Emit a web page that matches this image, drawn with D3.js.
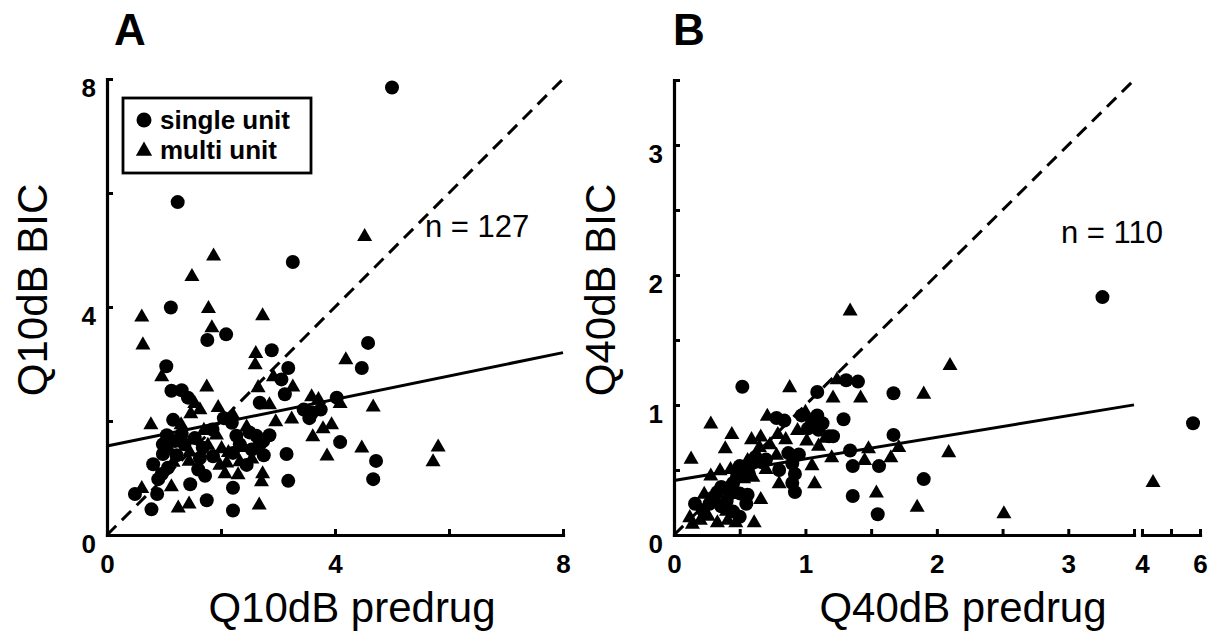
<!DOCTYPE html>
<html>
<head>
<meta charset="utf-8">
<script src="https://cdn.jsdelivr.net/npm/d3@7"></script>
<style>
  body { margin: 0; background: #fff; }
  svg { display: block; }
  text { font-family: "Liberation Sans", Arial, Helvetica, sans-serif; fill: #000; }
</style>
</head>
<body>
<svg id="chart" width="1210" height="633"></svg>
<script>
// ---- data ----
// panel A: Q10dB predrug vs Q10dB BIC
const aSingle = [
  [5.0, 7.85], [1.24, 5.84], [3.26, 4.79], [1.12, 3.99], [1.76, 3.42], [2.09, 3.52], [2.89, 3.24],
  [1.04, 2.96], [3.18, 2.93], [3.06, 2.73], [1.13, 2.53], [1.31, 2.54], [3.12, 2.47], [1.42, 2.41],
  [2.68, 2.32], [1.16, 2.02], [2.19, 1.97], [1.31, 1.77], [1.54, 1.70], [2.27, 1.74], [2.62, 1.74],
  [0.98, 1.59], [1.19, 1.65], [2.68, 1.59], [1.68, 1.53], [0.98, 1.42], [2.21, 1.44], [2.54, 1.50],
  [3.15, 1.42], [1.63, 1.35], [1.86, 1.38], [0.81, 1.24], [1.07, 1.18], [0.96, 1.07], [1.72, 1.04],
  [3.18, 0.95], [0.90, 0.98], [0.49, 0.72], [1.46, 0.89], [0.88, 0.72], [2.21, 0.83], [0.78, 0.45],
  [1.75, 0.61], [2.21, 0.43],
  [4.58, 3.37], [4.47, 2.93], [4.03, 2.41], [3.45, 2.20], [3.60, 2.15], [3.75, 2.20], [3.55, 2.05],
  [4.09, 1.63], [4.72, 1.30], [4.67, 0.98],
  [1.36, 1.59], [2.33, 1.59], [2.45, 1.23], [2.74, 1.65], [1.05, 1.75], [1.22, 1.40], [1.85, 1.85],
  [2.05, 2.05], [2.50, 1.80], [2.75, 1.40], [1.60, 1.15], [2.85, 1.75]
];
const aMulti = [
  [4.52, 5.25], [1.87, 4.91], [1.49, 4.55], [0.61, 3.84], [1.78, 3.99], [2.73, 3.86], [1.84, 3.65],
  [0.63, 3.35], [2.61, 3.20], [2.60, 3.00], [0.96, 2.79], [2.92, 2.79], [3.26, 2.61], [1.75, 2.61],
  [2.65, 2.60], [1.54, 2.32], [1.47, 2.14], [1.63, 2.21], [0.77, 1.95], [2.21, 2.12], [2.96, 2.00],
  [3.24, 2.05], [2.45, 1.91], [1.92, 1.77], [1.77, 1.59], [2.01, 1.53], [1.44, 1.31], [1.98, 1.24],
  [2.33, 1.30], [2.07, 1.09], [2.30, 1.07], [2.73, 1.09], [2.71, 0.95], [0.61, 0.83], [1.13, 0.86],
  [1.25, 0.49], [1.44, 0.56], [2.67, 0.54],
  [4.19, 3.09], [3.59, 2.44], [3.71, 2.39], [4.09, 2.32], [4.67, 2.26], [3.94, 1.95], [3.79, 1.88],
  [3.61, 1.74], [4.47, 1.54], [5.81, 1.56], [5.72, 1.30], [3.86, 1.40],
  [1.45, 1.47], [2.13, 1.46], [2.54, 1.35], [1.16, 1.29], [2.10, 1.28], [1.30, 1.95], [1.95, 2.25],
  [2.40, 1.55], [1.10, 1.50], [2.85, 2.30], [1.70, 1.85]
];
// panel B: Q40dB predrug vs Q40dB BIC
const bSingle = [
  [0.52, 1.14], [1.09, 1.10], [0.78, 0.90], [0.84, 0.88], [0.97, 0.92], [1.09, 0.92], [1.02, 0.82],
  [1.10, 0.81], [1.18, 0.76], [0.67, 0.56], [0.87, 0.63], [0.90, 0.55], [0.92, 0.47], [0.92, 0.33],
  [0.50, 0.53], [0.57, 0.47], [0.36, 0.37], [0.43, 0.32], [0.50, 0.32], [0.30, 0.29], [0.16, 0.24],
  [0.22, 0.19], [0.36, 0.22], [0.45, 0.18], [0.50, 0.14], [0.56, 0.31], [0.45, 0.40], [0.59, 0.55],
  [0.80, 0.50],
  [1.31, 1.19], [1.40, 1.18], [3.26, 1.83], [1.67, 1.09], [1.29, 0.89], [1.21, 0.76], [1.67, 0.77],
  [1.34, 0.65], [1.36, 0.53], [1.56, 0.53], [1.90, 0.43], [1.36, 0.30], [1.55, 0.16],
  [5.76, 0.86],
  [0.33, 0.33], [0.40, 0.26], [0.55, 0.24], [0.27, 0.24], [0.48, 0.45], [0.62, 0.60], [0.90, 0.40],
  [0.95, 0.62], [1.05, 0.88], [1.13, 0.86], [0.70, 0.58]
];
const bMulti = [
  [0.88, 1.14], [1.21, 1.06], [0.28, 0.86], [0.44, 0.78], [0.71, 0.92], [0.59, 0.74], [0.66, 0.76],
  [0.79, 0.78], [0.94, 0.81], [1.01, 0.73], [1.10, 0.69], [0.39, 0.67], [0.13, 0.59], [0.63, 0.62],
  [0.78, 0.62], [1.05, 0.54], [1.07, 0.40], [0.28, 0.46], [0.43, 0.51], [0.70, 0.51], [0.80, 0.40],
  [0.66, 0.28], [0.12, 0.14], [0.26, 0.15], [0.41, 0.12], [0.61, 0.10], [0.14, 0.09], [0.40, 0.19],
  [0.53, 0.44], [0.65, 0.68],
  [1.34, 1.73], [2.10, 1.31], [1.24, 1.20], [1.42, 1.06], [1.90, 1.09], [1.71, 0.68], [1.48, 0.67],
  [1.20, 0.60], [1.45, 0.58], [1.65, 0.60], [2.09, 0.64], [1.54, 0.33], [1.85, 0.22], [2.51, 0.17],
  [4.38, 0.41],
  [0.33, 0.10], [0.20, 0.12], [0.47, 0.10], [0.56, 0.58], [0.73, 0.70], [0.85, 0.74], [1.00, 0.95],
  [1.15, 0.75], [0.35, 0.50], [0.23, 0.32], [0.60, 0.45]
];

// regression lines (intercept, slope)
const aFit = [1.56, 0.205];
const bFit = [0.42, 0.166];

// ticks
const aTicks = [0, 2, 4, 6, 8];
const aLabels = [0, 4, 8];
const bYTicks = [0, 0.5, 1, 1.5, 2, 2.5, 3, 3.5];
const bXTicks = [0, 0.5, 1, 1.5, 2, 2.5, 3, 3.5];
const bLabels = [0, 1, 2, 3];
const bXTicksBreak = [4, 5, 6];
const bXLabelsBreak = [4, 6];

const legendItems = ["single unit", "multi unit"];

// ---- drawing ----
const svg = d3.select("#chart");
const tickFont = 26;

function styleAxis(g) {
  g.select(".domain").attr("stroke", "#000").attr("stroke-width", 3.2).attr("stroke-linecap", "square");
  g.selectAll(".tick line").attr("stroke", "#000").attr("stroke-width", 3);
  g.selectAll(".tick text")
    .attr("font-size", tickFont)
    .attr("font-weight", "bold")
    .attr("fill", "#000")
    .style("font-family", '"Liberation Sans", Arial, sans-serif');
}

function xAxisAt(g, scale, ticks, labels) {
  g.call(d3.axisBottom(scale).tickValues(ticks).tickSizeInner(-6).tickSizeOuter(0).tickPadding(20)
    .tickFormat(d => labels.includes(d) ? d : ""));
  styleAxis(g);
}

function yAxisAt(g, scale, ticks, labels) {
  g.call(d3.axisLeft(scale).tickValues(ticks).tickSizeInner(-6).tickSizeOuter(0).tickPadding(11)
    .tickFormat(d => labels.includes(d) ? d : ""));
  styleAxis(g);
  g.selectAll(".tick text").attr("dy", "0.66em");
}

const triangle = d3.symbol().type(d3.symbolTriangle).size(98);

function drawPoints(single, multi, fx, fy) {
  svg.append("g").selectAll("circle").data(single).join("circle")
    .attr("cx", d => fx(d[0])).attr("cy", d => fy(d[1])).attr("r", 7).attr("fill", "#000");
  svg.append("g").selectAll("path").data(multi).join("path")
    .attr("d", triangle)
    .attr("transform", d => `translate(${fx(d[0])},${fy(d[1]) + 1})`)
    .attr("fill", "#000");
}

function fitLine(fit, x0, x1, fx, fy) {
  svg.append("line")
    .attr("x1", fx(x0)).attr("y1", fy(fit[0] + fit[1] * x0))
    .attr("x2", fx(x1)).attr("y2", fy(fit[0] + fit[1] * x1))
    .attr("stroke", "#000").attr("stroke-width", 3);
}

function unityLine(v, fx, fy) {
  svg.append("line")
    .attr("x1", fx(0)).attr("y1", fy(0)).attr("x2", fx(v)).attr("y2", fy(v))
    .attr("stroke", "#000").attr("stroke-width", 3).attr("stroke-dasharray", "13,8");
}

// ---- panel A ----
const ax = d3.scaleLinear().domain([0, 8]).range([107, 563]);
const ay = d3.scaleLinear().domain([0, 8]).range([535, 79]);

unityLine(8, ax, ay);
fitLine(aFit, 0, 8, ax, ay);
drawPoints(aSingle, aMulti, ax, ay);

xAxisAt(svg.append("g").attr("transform", `translate(0,${ay(0)})`), ax, aTicks, aLabels);
yAxisAt(svg.append("g").attr("transform", `translate(${ax(0)},0)`), ay, aTicks, aLabels);

// legend
const lg = svg.append("g");
lg.append("rect").attr("x", 123).attr("y", 98).attr("width", 188).attr("height", 75)
  .attr("fill", "#fff").attr("stroke", "#000").attr("stroke-width", 2.8);
legendItems.forEach((name, i) => {
  const cy = 120 + i * 30;
  if (i === 0) {
    lg.append("circle").attr("cx", 144).attr("cy", cy).attr("r", 7.5).attr("fill", "#000");
  } else {
    lg.append("path").attr("d", d3.symbol().type(d3.symbolTriangle).size(115))
      .attr("transform", `translate(144,${cy + 1})`).attr("fill", "#000");
  }
  lg.append("text").attr("x", 160).attr("y", cy + 9)
    .attr("font-size", 26).attr("font-weight", "bold").text(name);
});

svg.append("text").attr("x", 425).attr("y", 237).attr("font-size", 31).text("n = 127");
svg.append("text").attr("x", 114).attr("y", 45).attr("font-size", 44).attr("font-weight", "bold").text("A");
svg.append("text").attr("x", 352).attr("y", 622).attr("text-anchor", "middle").attr("font-size", 42).text("Q10dB predrug");
svg.append("text").attr("transform", "translate(47,290) rotate(-90)").attr("text-anchor", "middle")
  .attr("font-size", 42).text("Q10dB BIC");

// ---- panel B (broken x axis) ----
const bx1 = d3.scaleLinear().domain([0, 3.5]).range([674, 1134]);
const bx2 = d3.scaleLinear().domain([4, 6]).range([1142, 1200]);
const bx = v => v <= 3.5 ? bx1(v) : bx2(v);
const by = d3.scaleLinear().domain([0, 3.5]).range([535, 80]);

unityLine(3.5, bx, by);
fitLine(bFit, 0, 3.5, bx, by);
drawPoints(bSingle, bMulti, bx, by);

xAxisAt(svg.append("g").attr("transform", `translate(0,${by(0)})`), bx1, bXTicks, bLabels);
xAxisAt(svg.append("g").attr("transform", `translate(0,${by(0)})`), bx2, bXTicksBreak, bXLabelsBreak);
yAxisAt(svg.append("g").attr("transform", `translate(${bx1(0)},0)`), by, bYTicks, bLabels);

svg.append("text").attr("x", 1061).attr("y", 243).attr("font-size", 31).text("n = 110");
svg.append("text").attr("x", 673).attr("y", 45).attr("font-size", 44).attr("font-weight", "bold").text("B");
svg.append("text").attr("x", 963).attr("y", 622).attr("text-anchor", "middle").attr("font-size", 42).text("Q40dB predrug");
svg.append("text").attr("transform", "translate(615,290) rotate(-90)").attr("text-anchor", "middle")
  .attr("font-size", 42).text("Q40dB BIC");
</script>
</body>
</html>
